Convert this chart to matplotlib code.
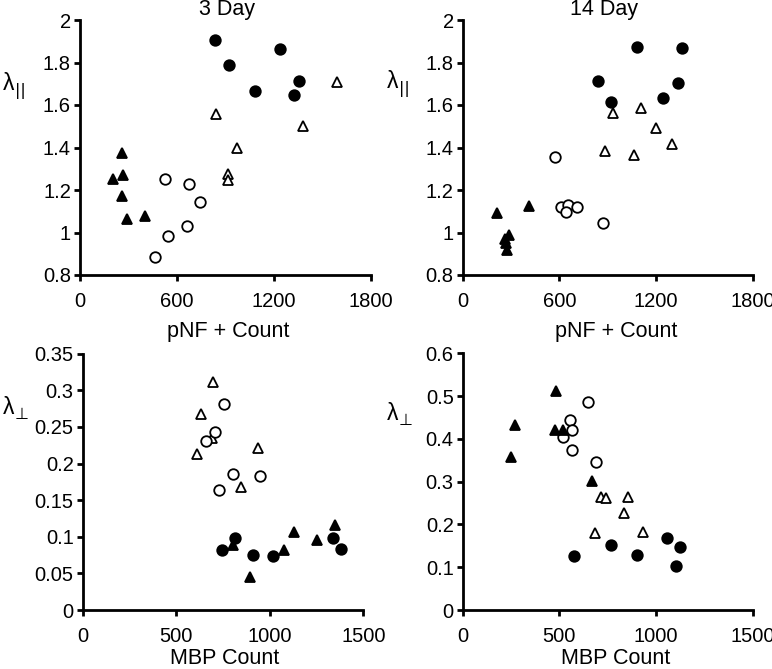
import matplotlib
matplotlib.use("Agg")
import matplotlib.pyplot as plt

plt.rcParams['font.family'] = ['Liberation Sans', 'DejaVu Sans']

# ---- Data ----
# Panel A: 3 Day, lambda_par vs pNF+ count
a_fc_x = [835, 922, 1083, 1237, 1355, 1324]
a_fc_y = [1.906, 1.788, 1.666, 1.864, 1.713, 1.647]
a_ot_x = [1592, 841, 1381, 969, 918, 918]
a_ot_y = [1.71, 1.556, 1.501, 1.399, 1.275, 1.247]
a_ft_x = [258, 202, 268, 262, 289, 402]
a_ft_y = [1.376, 1.25, 1.272, 1.172, 1.062, 1.078]
a_oc_x = [526, 676, 740, 664, 542, 464]
a_oc_y = [1.25, 1.227, 1.144, 1.029, 0.984, 0.885]

# Panel B: 14 Day, lambda_par vs pNF+ count
b_fc_x = [1080, 1359, 842, 1337, 921, 1243]
b_fc_y = [1.871, 1.867, 1.715, 1.703, 1.613, 1.631]
b_ot_x = [933, 1109, 1198, 1299, 886, 1061]
b_ot_y = [1.564, 1.584, 1.493, 1.415, 1.384, 1.363]
b_oc_x = [575, 610, 652, 643, 710, 871]
b_oc_y = [1.355, 1.122, 1.128, 1.096, 1.118, 1.045]
b_ft_x = [211, 410, 290, 265, 270, 272]
b_ft_y = [1.09, 1.125, 0.99, 0.97, 0.95, 0.92]

# Panel C: 3 Day, lambda_perp vs MBP count
c_fc_x = [746, 815, 912, 1019, 1339, 1382]
c_fc_y = [0.082, 0.098, 0.075, 0.074, 0.098, 0.083]
c_ft_x = [805, 894, 1074, 1131, 1253, 1349]
c_ft_y = [0.089, 0.0446, 0.0819, 0.106, 0.0956, 0.116]
c_ot_x = [698, 634, 611, 693, 935, 848]
c_ot_y = [0.3112, 0.2675, 0.2125, 0.2343, 0.2216, 0.1674]
c_oc_x = [755, 705, 657, 805, 949, 730]
c_oc_y = [0.2807, 0.243, 0.2302, 0.1852, 0.1824, 0.1642]

# Panel D: 14 Day, lambda_perp vs MBP count
d_ft_x = [484, 271, 248, 477, 519, 667]
d_ft_y = [0.513, 0.432, 0.3585, 0.421, 0.421, 0.302]
d_oc_x = [647, 556, 566, 519, 566, 691]
d_oc_y = [0.486, 0.444, 0.421, 0.404, 0.374, 0.345]
d_ot_x = [716, 743, 855, 833, 933, 686]
d_ot_y = [0.263, 0.261, 0.265, 0.2276, 0.182, 0.179]
d_fc_x = [578, 769, 902, 1057, 1124, 1103]
d_fc_y = [0.126, 0.153, 0.128, 0.169, 0.148, 0.104]

top_xticks = [0, 600, 1200, 1800]
top_yticks = [0.8, 1.0, 1.2, 1.4, 1.6, 1.8, 2.0]
top_ylabels = ['0.8', '1', '1.2', '1.4', '1.6', '1.8', '2']
bl_xticks = [0, 500, 1000, 1500]
bl_yticks = [0, 0.05, 0.1, 0.15, 0.2, 0.25, 0.3, 0.35]
bl_ylabels = ['0', '0.05', '0.1', '0.15', '0.2', '0.25', '0.3', '0.35']
br_yticks = [0, 0.1, 0.2, 0.3, 0.4, 0.5, 0.6]
br_ylabels = ['0', '0.1', '0.2', '0.3', '0.4', '0.5', '0.6']

W, H = 772, 669
fig = plt.figure(figsize=(W / 100, H / 100), dpi=100)
TFS = 14.5   # tick labels
LFS = 15.5   # titles / axis labels
MS = 7.6
MEW = 1.3


def make_ax(l, r, t, b):
    return fig.add_axes([l / W, 1 - b / H, (r - l) / W, (b - t) / H])


def style(ax, xt, yt, ylab, xlim, ylim):
    for s in ['top', 'right']:
        ax.spines[s].set_visible(False)
    for s in ['left', 'bottom']:
        ax.spines[s].set_linewidth(2.0)
    ax.set_xlim(*xlim)
    ax.set_ylim(*ylim)
    ax.set_xticks(xt)
    ax.set_xticklabels([str(v) for v in xt])
    ax.set_yticks(yt)
    ax.set_yticklabels(ylab)
    ax.tick_params(axis='both', direction='out', length=4.5, width=2.0,
                   labelsize=TFS)
    ax.tick_params(axis='x', pad=8)
    ax.tick_params(axis='y', pad=2)


def series(ax, x, y, kind):
    marker = 'o' if 'c' in kind else '^'
    face = 'black' if kind.startswith('f') else 'white'
    ax.plot(x, y, linestyle='none', marker=marker, markersize=MS,
            markerfacecolor=face, markeredgecolor='black',
            markeredgewidth=MEW, clip_on=False)


axA = make_ax(80, 371, 20, 275)
axB = make_ax(462.7, 752.7, 20, 275)
axC = make_ax(82.7, 363.3, 353.7, 610)
axD = make_ax(462.7, 752.7, 353.3, 610)

style(axA, top_xticks, top_yticks, top_ylabels, (0, 1800), (0.8, 2.0))
style(axB, top_xticks, top_yticks, top_ylabels, (0, 1800), (0.8, 2.0))
style(axC, bl_xticks, bl_yticks, bl_ylabels, (0, 1500), (0, 0.35))
style(axD, bl_xticks, br_yticks, br_ylabels, (0, 1500), (0, 0.6))

series(axA, a_ft_x, a_ft_y, 'ft')
series(axA, a_oc_x, a_oc_y, 'oc')
series(axA, a_ot_x, a_ot_y, 'ot')
series(axA, a_fc_x, a_fc_y, 'fc')

series(axB, b_ft_x, b_ft_y, 'ft')
series(axB, b_oc_x, b_oc_y, 'oc')
series(axB, b_ot_x, b_ot_y, 'ot')
series(axB, b_fc_x, b_fc_y, 'fc')

series(axC, c_ot_x, c_ot_y, 'ot')
series(axC, c_oc_x, c_oc_y, 'oc')
series(axC, c_ft_x, c_ft_y, 'ft')
series(axC, c_fc_x, c_fc_y, 'fc')

series(axD, d_ot_x, d_ot_y, 'ot')
series(axD, d_oc_x, d_oc_y, 'oc')
series(axD, d_ft_x, d_ft_y, 'ft')
series(axD, d_fc_x, d_fc_y, 'fc')

# titles
fig.text(227 / W, 1 - 10 / H, '3 Day', ha='center', va='center', fontsize=LFS)
fig.text(604 / W, 1 - 10 / H, '14 Day', ha='center', va='center', fontsize=LFS)
# x labels
fig.text(228 / W, 1 - 332 / H, 'pNF + Count', ha='center', va='center', fontsize=LFS)
fig.text(616 / W, 1 - 332 / H, 'pNF + Count', ha='center', va='center', fontsize=LFS)
fig.text(225 / W, 1 - 658 / H, 'MBP Count', ha='center', va='center', fontsize=LFS)
fig.text(616 / W, 1 - 658 / H, 'MBP Count', ha='center', va='center', fontsize=LFS)

# y labels: lambda with subscript


def ylab(x, y, sub):
    fig.text(x / W, 1 - y / H, 'λ', ha='left', va='baseline', fontsize=16.5)
    fig.text((x + 12) / W, 1 - (y + 5) / H, sub, ha='left', va='baseline',
             fontsize=11.5, family=['DejaVu Sans'])


ylab(3, 90, '||')
ylab(387, 88, '||')
ylab(3, 414, '⊥')
ylab(387, 420, '⊥')

fig.savefig('out.png', dpi=100)
